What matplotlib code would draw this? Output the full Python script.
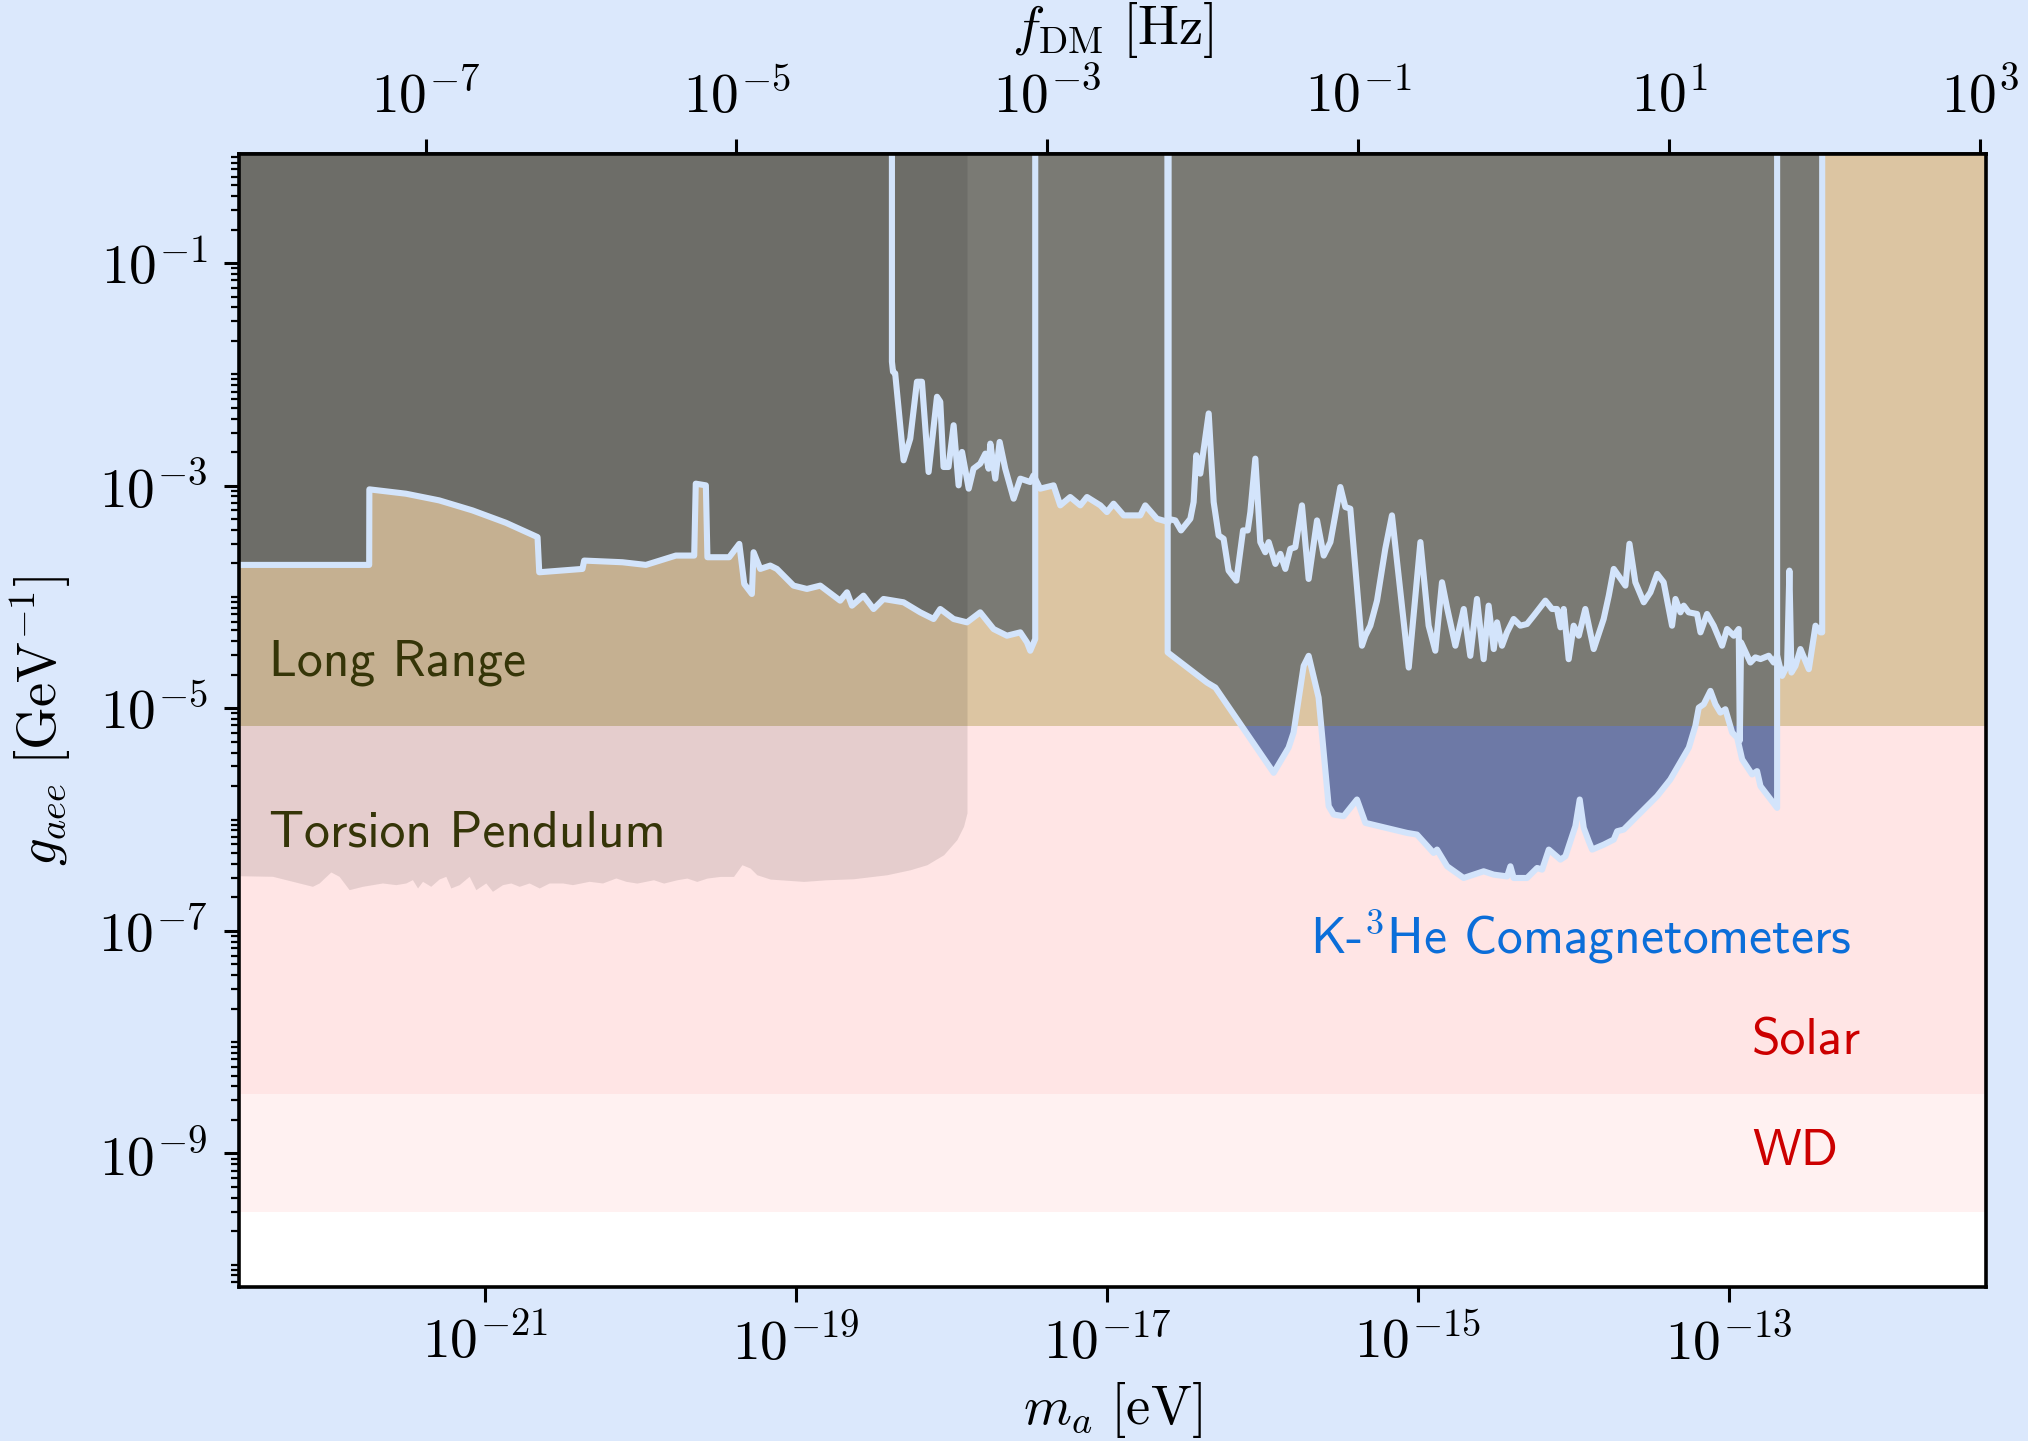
import numpy as np
import matplotlib
matplotlib.use("Agg")
import matplotlib.pyplot as plt
from matplotlib.patches import Rectangle
from matplotlib.ticker import FixedLocator, FuncFormatter, NullLocator, NullFormatter

plt.rcParams['mathtext.fontset'] = 'cm'

H_EVS = 4.135667696e-15   # eV s, converts mass to frequency

# ---------------- data (log10 values) ----------------
# horizontal bounds (lower edges of the bands)
wd_logg = -9.53
solar_logg = -8.47
longrange_logg = -5.16

# comagnetometer limit A (low masses)
a_logm = [-22.62, -21.746, -21.745, -21.510, -21.296, -21.082, -20.867, -20.663, -20.652,
          -20.374, -20.363, -20.117, -19.966, -19.773, -19.655, -19.645, -19.580, -19.570,
          -19.430, -19.365, -19.333, -19.284, -19.273, -19.230, -19.166, -19.123, -19.016,
          -18.930, -18.844, -18.716, -18.672, -18.640, -18.566, -18.501, -18.437, -18.308,
          -18.201, -18.115, -18.072, -17.986, -17.900, -17.815, -17.729, -17.643, -17.557,
          -17.514, -17.493, -17.461, -17.461]
a_logg = [-3.712, -3.712, -3.033, -3.072, -3.132, -3.222, -3.333, -3.462, -3.778,
          -3.748, -3.673, -3.688, -3.712, -3.628, -3.628, -2.982, -2.997, -3.643,
          -3.643, -3.523, -3.883, -3.973, -3.598, -3.748, -3.718, -3.748, -3.898,
          -3.928, -3.898, -4.033, -3.958, -4.078, -3.988, -4.108, -4.018, -4.048,
          -4.138, -4.198, -4.108, -4.198, -4.228, -4.138, -4.288, -4.348, -4.318,
          -4.408, -4.483, -4.378, 1.0]

# comagnetometer limit B
b_logm = [-18.383, -18.383, -18.376, -18.362, -18.308, -18.265, -18.222, -18.190, -18.147,
          -18.093, -18.072, -18.051, -18.019, -17.986, -17.954, -17.932, -17.889, -17.858,
          -17.815, -17.782, -17.761, -17.750, -17.718, -17.690, -17.654, -17.600, -17.557,
          -17.493, -17.472, -17.429, -17.343, -17.300, -17.236, -17.171, -17.128, -17.042,
          -17.000, -16.957, -16.892, -16.785, -16.753, -16.678, -16.603, -16.603]
b_logg = [1.0, -1.886, -1.976, -1.991, -2.772, -2.577, -2.066, -2.066, -2.877,
          -2.201, -2.246, -2.832, -2.832, -2.457, -2.997, -2.697, -3.027, -2.847,
          -2.802, -2.712, -2.847, -2.622, -2.937, -2.607, -2.847, -3.117, -2.937,
          -2.967, -2.907, -3.027, -2.997, -3.177, -3.102, -3.177, -3.102, -3.177,
          -3.237, -3.162, -3.267, -3.267, -3.177, -3.297, -3.327, 1.0]

# comagnetometer limit C (deepest)
c_logm = [-16.609, -16.609, -16.356, -16.302, -15.927, -15.831, -15.799, -15.734, -15.702,
          -15.638, -15.573, -15.541, -15.477, -15.391, -15.337, -15.069, -15.005, -14.898,
          -14.876, -14.811, -14.705, -14.576, -14.511, -14.425, -14.404, -14.383, -14.297,
          -14.232, -14.200, -14.157, -14.082, -14.050, -13.986, -13.958, -13.932, -13.900,
          -13.878, -13.803, -13.739, -13.717, -13.675, -13.460, -13.375, -13.256, -13.214,
          -13.192, -13.160, -13.117, -13.085, -13.053, -13.021, -12.977, -12.945, -12.913,
          -12.849, -12.817, -12.795, -12.688, -12.688]
c_logg = [1.0, -4.498, -4.769, -4.814, -5.580, -5.354, -5.219, -4.619, -4.529,
          -4.904, -5.880, -5.955, -5.970, -5.820, -6.030, -6.120, -6.135, -6.300,
          -6.270, -6.420, -6.525, -6.465, -6.495, -6.511, -6.420, -6.525, -6.525,
          -6.435, -6.450, -6.270, -6.360, -6.330, -6.060, -5.820, -6.075, -6.195,
          -6.270, -6.225, -6.180, -6.105, -6.090, -5.790, -5.640, -5.354, -5.159,
          -4.994, -4.964, -4.844, -4.964, -5.039, -5.009, -5.219, -5.264, -5.459,
          -5.595, -5.565, -5.700, -5.895, 1.0]

# comagnetometer limit D (noisy, upper)
d_logm = [-16.609, -16.609, -16.560, -16.523, -16.463, -16.442, -16.425, -16.399, -16.345,
          -16.313, -16.281, -16.249, -16.217, -16.167, -16.124, -16.094, -16.077, -16.045,
          -16.013, -15.981, -15.959, -15.916, -15.884, -15.852, -15.820, -15.788, -15.745,
          -15.702, -15.648, -15.605, -15.562, -15.498, -15.466, -15.434, -15.359, -15.337,
          -15.305, -15.262, -15.209, -15.166, -15.058, -14.983, -14.930, -14.887, -14.844,
          -14.812, -14.758, -14.704, -14.662, -14.619, -14.576, -14.544, -14.511, -14.490,
          -14.458, -14.426, -14.383, -14.340, -14.297, -14.254, -14.179, -14.136, -14.104,
          -14.082, -14.061, -14.029, -13.997, -13.964, -13.922, -13.868, -13.804, -13.771,
          -13.739, -13.664, -13.638, -13.600, -13.546, -13.503, -13.460, -13.418, -13.364,
          -13.342, -13.310, -13.289, -13.257, -13.203, -13.181, -13.139, -13.096, -13.042,
          -13.010, -12.967, -12.935, -12.928, -12.920, -12.860, -12.828, -12.795, -12.742,
          -12.710, -12.688, -12.656, -12.624, -12.609, -12.596, -12.570, -12.538, -12.484,
          -12.441, -12.409, -12.398, -12.398]
d_logg = [1.0, -3.297, -3.312, -3.402, -3.297, -3.147, -2.727, -2.892, -2.351,
          -3.147, -3.447, -3.477, -3.763, -3.853, -3.402, -3.402, -3.237, -2.757,
          -3.507, -3.598, -3.507, -3.703, -3.613, -3.748, -3.568, -3.553, -3.177,
          -3.838, -3.312, -3.628, -3.507, -3.012, -3.192, -3.207, -4.438, -4.348,
          -4.258, -4.033, -3.568, -3.267, -4.634, -3.507, -4.258, -4.483, -3.868,
          -4.093, -4.438, -4.108, -4.529, -4.018, -4.559, -4.078, -4.468, -4.228,
          -4.438, -4.318, -4.198, -4.258, -4.243, -4.168, -4.033, -4.108, -4.108,
          -4.273, -4.108, -4.559, -4.258, -4.348, -4.108, -4.468, -4.198, -3.988,
          -3.748, -3.898, -3.522, -3.868, -4.048, -3.958, -3.793, -3.868, -4.258,
          -4.018, -4.138, -4.078, -4.138, -4.153, -4.318, -4.153, -4.258, -4.438,
          -4.288, -4.348, -4.288, -5.290, -4.408, -4.589, -4.543, -4.558, -4.528,
          -4.589, -4.528, -4.709, -4.619, -3.763, -4.679, -4.619, -4.468, -4.649,
          -4.258, -4.318, -4.318, 1.0]

# torsion pendulum lower edge
tp_logm = [-22.62, -22.368, -22.111, -22.068, -21.993, -21.940, -21.875, -21.789, -21.725,
           -21.661, -21.575, -21.510, -21.468, -21.435, -21.403, -21.350, -21.296, -21.253,
           -21.221, -21.167, -21.103, -21.060, -20.996, -20.953, -20.888, -20.835, -20.781,
           -20.717, -20.652, -20.588, -20.502, -20.438, -20.331, -20.245, -20.159, -20.095,
           -20.024, -19.917, -19.852, -19.766, -19.702, -19.638, -19.573, -19.488, -19.402,
           -19.348, -19.295, -19.252, -19.166, -18.951, -18.801, -18.630, -18.415, -18.265,
           -18.158, -18.050, -17.965, -17.922, -17.900, -17.900]
tp_logg = [-6.504, -6.510, -6.600, -6.570, -6.471, -6.510, -6.630, -6.600, -6.585,
           -6.570, -6.585, -6.570, -6.540, -6.615, -6.555, -6.600, -6.534, -6.510,
           -6.615, -6.585, -6.510, -6.630, -6.570, -6.645, -6.585, -6.570, -6.600,
           -6.570, -6.615, -6.570, -6.570, -6.585, -6.555, -6.570, -6.525, -6.555,
           -6.571, -6.541, -6.571, -6.541, -6.526, -6.556, -6.526, -6.511, -6.511,
           -6.406, -6.436, -6.496, -6.535, -6.556, -6.541, -6.532, -6.496, -6.451,
           -6.406, -6.316, -6.180, -6.060, -5.940, 1.0]

bottom_ticks = [-21, -19, -17, -15, -13]
top_ticks = [-7, -5, -3, -1, 1, 3]
left_ticks = [-1, -3, -5, -7, -9]

# ---------------- style ----------------
BG = '#dbe8fc'
LINE = '#d3e4fb'
GRAY = '#7a7a74'
BLUE = '#6d79a6'
TAN = '#dcc5a2'
PINK = '#ffe5e5'
WDC = '#fff1f1'

XMIN, XMAX = 10**-22.583, 10**-11.344
YMIN, YMAX = 10**-10.2, 10**-0.02
TOP = 10.0

fig = plt.figure(figsize=(10.14, 7.205), dpi=200, facecolor=BG)
ax = fig.add_axes([0.1179, 0.1069, 0.8614, 0.7862])
ax.set_facecolor('white')
ax.set_xscale('log')
ax.set_yscale('log')
ax.set_xlim(XMIN, XMAX)
ax.set_ylim(YMIN, YMAX)

ax.axhspan(10**wd_logg, TOP, color=WDC, lw=0, zorder=1)
ax.axhspan(10**solar_logg, TOP, color=PINK, lw=0, zorder=1.1)
ax.axhspan(10**longrange_logg, TOP, color=TAN, lw=0, zorder=1.2)

LR = 10**longrange_logg
curves = [(a_logm, a_logg), (b_logm, b_logg), (c_logm, c_logg), (d_logm, d_logg)]
for lm, lg in curves:
    m = 10**np.array(lm)
    g = 10**np.array(lg)
    above = Rectangle((XMIN, LR), XMAX - XMIN, YMAX - LR,
                      transform=ax.transData, visible=False)
    below = Rectangle((XMIN, YMIN), XMAX - XMIN, LR - YMIN,
                      transform=ax.transData, visible=False)
    pg = ax.fill_between(m, g, TOP, color=GRAY, lw=0, zorder=2)
    pg.set_clip_path(above)
    pb = ax.fill_between(m, g, TOP, color=BLUE, lw=0, zorder=2)
    pb.set_clip_path(below)

ax.fill_between(10**np.array(tp_logm), 10**np.array(tp_logg), TOP,
                color='black', alpha=0.10, lw=0, zorder=3)

for lm, lg in curves:
    ax.plot(10**np.array(lm), 10**np.array(lg), color=LINE, lw=2.2, zorder=4,
            solid_joinstyle='round')

# labels
sf = dict(family='cmss10', fontsize=18.6, zorder=6, va='baseline', ha='left')
ax.text(10**-22.392, 10**-4.709, 'Long Range', color='#353508', **sf)
ax.text(10**-22.392, 10**-6.24, 'Torsion Pendulum', color='#353508', **sf)
ax.text(10**-15.695, 10**-7.207, r'K-$^3$He Comagnetometers', color='#0b6ed9', **sf)
ax.text(10**-12.85, 10**-8.108, 'Solar', color='#cc0000', **sf)
ax.text(10**-12.85, 10**-9.108, 'WD', color='#cc0000', **sf)

# ticks
fmt = FuncFormatter(lambda v, p: r'$10^{%d}$' % int(round(np.log10(v))))
ax.xaxis.set_major_locator(FixedLocator([10.0**k for k in bottom_ticks]))
ax.xaxis.set_minor_locator(NullLocator())
ax.xaxis.set_major_formatter(fmt)
ax.xaxis.set_minor_formatter(NullFormatter())
ax.yaxis.set_major_locator(FixedLocator([10.0**k for k in left_ticks]))
minor_y = [s * 10.0**k for k in range(-11, 1) for s in range(1, 10)
           if not (s == 1 and k in left_ticks)]
ax.yaxis.set_minor_locator(FixedLocator(minor_y))
ax.yaxis.set_major_formatter(fmt)
ax.yaxis.set_minor_formatter(NullFormatter())
ax.tick_params(which='major', direction='out', length=5.5, width=1.1, labelsize=20, pad=5)
ax.tick_params(which='minor', direction='out', length=3.0, width=0.8)
ax.tick_params(axis='y', which='major', pad=6)
for s in ax.spines.values():
    s.set_linewidth(1.3)
    s.set_zorder(10)

secax = ax.secondary_xaxis('top', functions=(lambda m: m / H_EVS, lambda f: f * H_EVS))
secax.xaxis.set_major_locator(FixedLocator([10.0**k for k in top_ticks]))
secax.xaxis.set_minor_locator(NullLocator())
secax.xaxis.set_major_formatter(fmt)
secax.xaxis.set_minor_formatter(NullFormatter())
secax.tick_params(which='major', direction='out', length=5.5, width=1.1, labelsize=20, pad=5)
secax.spines['top'].set_linewidth(1.3)

ax.set_xlabel(r'$m_a\ [\mathrm{eV}]$', fontsize=19.7, labelpad=3)
secax.set_xlabel(r'$f_{\rm DM}\ [\mathrm{Hz}]$', fontsize=19.7, labelpad=9)
ax.set_ylabel(r'$g_{aee}\ [\mathrm{GeV}^{-1}]$', fontsize=19.7, labelpad=9)

fig.savefig('out.png', dpi=200, facecolor=BG)
